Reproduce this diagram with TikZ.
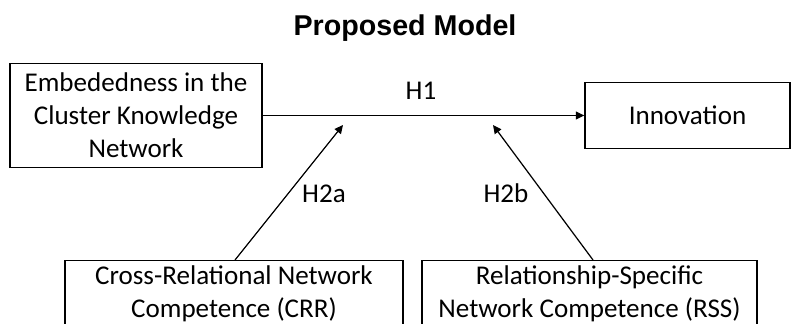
\documentclass[tikz,border=0pt]{standalone}
\usepackage{fontspec}
\setmainfont{Carlito}
\newfontfamily\titlefont{Liberation Sans}
\usetikzlibrary{arrows.meta}

\tikzset{
  varbox/.style={draw, line width=0.8pt, align=center, inner sep=0pt, font=\fontsize{15.4}{18.8}\selectfont},
  hyplabel/.style={anchor=base, font=\fontsize{15.4}{18.8}\selectfont}
}

\begin{document}
\begin{tikzpicture}[>={Triangle[length=0.17cm,width=0.16cm]}, line width=0.7pt]
    \useasboundingbox (0,0) rectangle (15.82,6.48);
    \clip (0,0) rectangle (15.82,6.48);

    % titolo
    \node[anchor=base] (title) at (8.1,5.76) {\titlefont\bfseries\fontsize{16.3}{19}\selectfont Proposed Model};

    % variabili
    \node[varbox, minimum width=5.04cm, minimum height=2.08cm] (emb) at (2.72,4.17) {Embededness in the\\Cluster Knowledge\\Network};
    \node[varbox, minimum width=4.1cm, minimum height=1.32cm] (innov) at (13.75,4.17) {Innovation};

    % moderatori
    \node[varbox, minimum width=6.76cm, minimum height=1.34cm, anchor=north] (crr) at (4.68,1.28) {Cross-Relational Network\\Competence (CRR)};
    \node[varbox, minimum width=6.7cm, minimum height=1.34cm, anchor=north] (rss) at (11.79,1.28) {Relationship-Specific\\Network Competence (RSS)};

    % effetto diretto
    \draw[->] (emb) -- (innov);
    \node[hyplabel] (h1) at (8.42,4.48) {H1};

    % effetti di moderazione
    \coordinate (m1) at (6.86,3.98);
    \coordinate (m2) at (9.86,3.98);
    \draw[->] ([xshift=0.02cm]crr.north) -- (m1);
    \draw[->] ([xshift=0.07cm]rss.north) -- (m2);
    \node[hyplabel] (h2a) at (6.48,2.42) {H2a};
    \node[hyplabel] (h2b) at (10.12,2.42) {H2b};
\end{tikzpicture}
\end{document}
